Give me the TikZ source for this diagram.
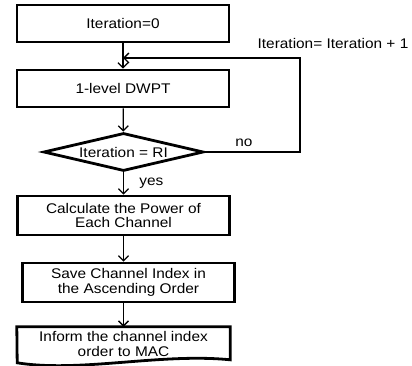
\documentclass[tikz,border=0pt]{standalone}
\usepackage{fontspec}
\setmainfont[FakeStretch=1.1]{Liberation Sans}
\usetikzlibrary{shapes.geometric,arrows.meta}
\tikzset{
  stepbox/.style={draw, line width=2.8pt, minimum width=212pt, minimum height=37pt, inner sep=2pt, align=center},
  testbox/.style={draw, diamond, line width=2.8pt, aspect=4.4, minimum width=160pt, minimum height=38pt, inner sep=0pt},
  flow/.style={line width=1.3pt, -{Straight Barb[length=5pt,width=10pt,line width=1.3pt]}},
}
\begin{document}
\begin{tikzpicture}[x=1pt,y=-1pt,font=\fontsize{14}{14.5}\selectfont]
  \useasboundingbox (0,0) rectangle (412,366);
  \node[stepbox] (init) at (123,23.5) {Iteration=0};
  \node[stepbox] (dwpt) at (123,88.5) {1-level DWPT};
  \node[testbox] (check) at (123.5,152) {Iteration = RI};
  \node[stepbox, minimum height=39pt] (power) at (123.5,215.5) {Calculate the Power of\\Each Channel};
  \node[stepbox, minimum height=39pt] (save) at (128.5,282.5) {Save Channel Index in\\the Ascending Order};
  \node[minimum width=213pt, minimum height=34pt, inner sep=2pt, align=center] (inform) at (123.5,344) {Inform the channel index\\order to MAC};
  % document shape with wavy bottom
  \draw[line width=2.8pt, line join=miter] (inform.north west) -- (inform.north east) -- ++(0,33)
    .. controls +(-70,-7) and +(63,10) .. ++(-213,3) -- cycle;
  \coordinate (turn) at (300,58);
  \draw[flow] (init) -- (dwpt);
  \draw[flow] (dwpt) -- (check);
  \draw[flow] (check) -- node[right=12pt] (yes) {yes} (power);
  \draw[flow] (power.south) -- (power.south |- save.north);
  \draw[flow] (power.south |- save.south) -- (inform.north);
  \draw[flow] (check.east) -- node[above=1pt, pos=0.41] (no) {no} (check.east -| turn) -- (turn) -- (init.south |- turn);
  \node (incr) at (333,43) {Iteration= Iteration + 1};
\end{tikzpicture}
\end{document}
